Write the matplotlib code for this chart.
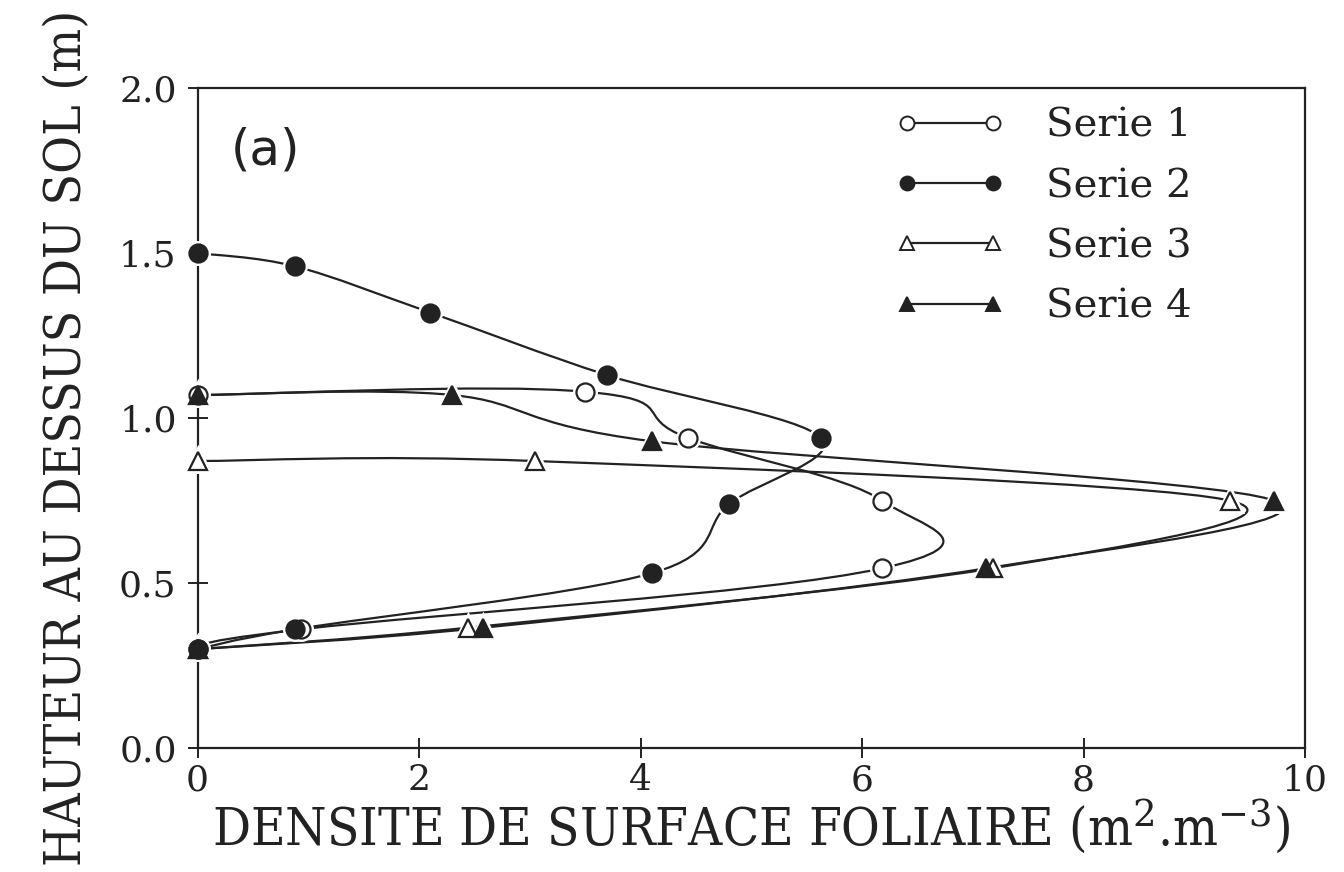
import numpy as np
import matplotlib
matplotlib.use('Agg')
import matplotlib.pyplot as plt
from matplotlib.path import Path
from matplotlib.patches import PathPatch
from matplotlib.lines import Line2D

plt.rcParams['font.family'] = ['DejaVu Serif']
plt.rcParams['mathtext.fontset'] = 'dejavuserif'

# points (a)
s1_x = [0.0, 3.5, 4.43, 6.18, 6.18, 0.93, 0.0]
s1_y = [1.07, 1.08, 0.94, 0.75, 0.545, 0.36, 0.30]
s2_x = [0.0, 0.88, 2.1, 3.7, 5.63, 4.8, 4.1, 0.88, 0.0]
s2_y = [1.50, 1.46, 1.32, 1.13, 0.94, 0.74, 0.53, 0.36, 0.30]
s3_x = [0.0, 3.05, 9.32, 7.18, 2.44, 0.0]
s3_y = [0.87, 0.87, 0.75, 0.545, 0.365, 0.30]
s4_x = [0.0, 2.3, 4.1, 9.72, 7.12, 2.58, 0.0]
s4_y = [1.07, 1.07, 0.93, 0.75, 0.545, 0.365, 0.30]
labels = ['Serie 1', 'Serie 2', 'Serie 3', 'Serie 4']

ink = '#222222'


def smooth_path(xs, ys, k=0.5):
    # catmull-rom through the points, done as bezier segments
    sc = np.array([10.0, 2.0])
    pts = np.column_stack([xs, ys]) / sc
    n = len(pts)
    verts = [pts[0]]
    codes = [Path.MOVETO]
    for i in range(n - 1):
        p0 = pts[max(i - 1, 0)]
        p1 = pts[i]
        p2 = pts[i + 1]
        p3 = pts[min(i + 2, n - 1)]
        verts += [p1 + (p2 - p0) * k / 3, p2 - (p3 - p1) * k / 3, p2]
        codes += [Path.CURVE4] * 3
    return Path(np.array(verts) * sc, codes)


fig = plt.figure(figsize=(13.44, 8.72), dpi=100)
ax = fig.add_axes([0.147, 0.142, 0.824, 0.757])

series = [(s1_x, s1_y, 'o', 'white', 0.6),
          (s2_x, s2_y, 'o', ink, 0.5),
          (s3_x, s3_y, '^', 'white', 0.5),
          (s4_x, s4_y, '^', ink, 0.5)]

handles = []
for (xs, ys, m, fc, k), lab in zip(series, labels):
    ax.add_patch(PathPatch(smooth_path(xs, ys, k), fill=False, lw=1.6,
                           edgecolor=ink, zorder=2, capstyle='round'))
    # white halo so the line breaks around each marker
    ax.plot(xs, ys, ls='none', marker=m, ms=13, mfc='white', mec='white',
            mew=5, zorder=3, clip_on=False)
    ax.plot(xs, ys, ls='none', marker=m, ms=13, mfc=fc, mec=ink,
            mew=1.6, zorder=4, clip_on=False)
    handles.append(Line2D([], [], color=ink, lw=1.6, marker=m, ms=10,
                          mfc=fc, mec=ink, mew=1.4, label=lab))

ax.set_xlim(0, 10)
ax.set_ylim(0, 2.0)
ax.set_xticks([0, 2, 4, 6, 8, 10])
ax.set_yticks([0.0, 0.5, 1.0, 1.5, 2.0])
ax.set_yticklabels(['0.0', '0.5', '1.0', '1.5', '2.0'])
ax.tick_params(direction='inout', length=14, width=1.4, labelsize=26,
               colors=ink)
ax.tick_params(axis='y', pad=8)
ax.tick_params(axis='x', pad=4)
for sp in ax.spines.values():
    sp.set_linewidth(1.6)
    sp.set_color(ink)

ax.set_xlabel('DENSITE DE SURFACE FOLIAIRE (m$^{2}$.m$^{-3}$)',
              fontsize=38, color=ink, labelpad=0, fontstretch='condensed')
ax.set_ylabel('HAUTEUR AU DESSUS DU SOL (m)', fontsize=37, color=ink,
              fontstretch='condensed')
ax.yaxis.set_label_coords(-0.095, 0.47)
ax.text(0.03, 0.905, '(a)', transform=ax.transAxes, fontsize=36,
        family='DejaVu Sans', color=ink, va='center', ha='left')

ax.legend(handles=handles, loc='upper right', numpoints=2, frameon=False,
          fontsize=29, handlelength=2.75, handletextpad=1.0,
          labelspacing=0.58, bbox_to_anchor=(0.93, 1.025), labelcolor=ink)

fig.savefig('out.png', dpi=100, facecolor='white')
